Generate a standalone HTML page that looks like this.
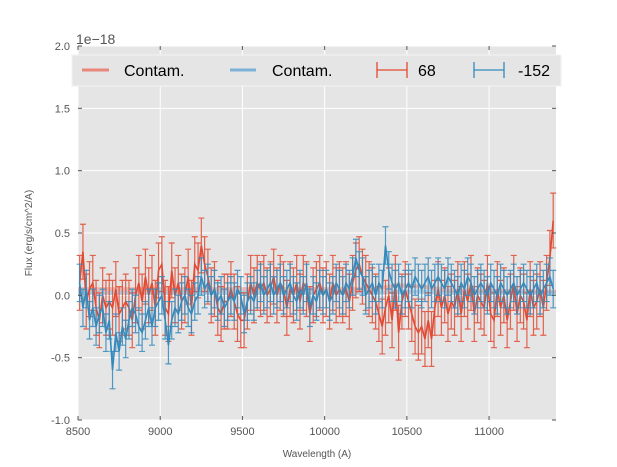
<!DOCTYPE html>
<html><head><meta charset="utf-8"><style>
html,body{margin:0;padding:0;background:#fff;}
svg{display:block;font-family:"Liberation Sans",sans-serif;}
</style></head><body>
<svg id="chart" width="617" height="467" viewBox="0 0 617 467" xmlns="http://www.w3.org/2000/svg">
<rect x="78" y="46" width="478" height="374" fill="#e5e5e5"/>
<g id="grid"></g>
<g id="series"></g>
<g id="axes"></g>
<text x="76" y="44" font-size="14" fill="#555">1e−18</text>
<text x="317" y="457" font-size="10" fill="#555" text-anchor="middle">Wavelength (A)</text>
<text transform="translate(32,233) rotate(-90)" font-size="10" fill="#555" text-anchor="middle">Flux (erg/s/cm^2/A)</text>
<g>
<rect x="72" y="55" width="489" height="31" fill="#e5e5e5" stroke="#f2f2f2" stroke-width="1"/>
<line x1="82" y1="70" x2="109" y2="70" stroke="#e8877a" stroke-width="3"/>
<text x="124" y="76" font-size="16" fill="#000">Contam.</text>
<line x1="230" y1="70" x2="256" y2="70" stroke="#7cb2d6" stroke-width="3"/>
<text x="272" y="76" font-size="16" fill="#000">Contam.</text>
<g stroke="#e24a33" stroke-width="1.3"><line x1="377" y1="70" x2="407" y2="70"/><line x1="377" y1="62" x2="377" y2="78"/><line x1="407" y1="62" x2="407" y2="78"/></g>
<text x="418" y="76" font-size="16" fill="#000">68</text>
<g stroke="#348abd" stroke-width="1.3"><line x1="474" y1="70" x2="504" y2="70"/><line x1="474" y1="62" x2="474" y2="78"/><line x1="504" y1="62" x2="504" y2="78"/></g>
<text x="518" y="76" font-size="16" fill="#000">-152</text>
</g>
</svg>
<script>
const wlStart = 8510, wlStep = 20;
const red68 = [0.1,0.35,-0.05,0.05,0.1,-0.1,-0.2,0.0,-0.1,-0.05,
-0.1,0.05,-0.15,-0.1,-0.05,-0.1,-0.2,0.0,0.1,-0.05,
0.15,0.0,0.1,-0.1,0.2,0.25,-0.1,-0.15,0.2,0.0,
0.1,-0.05,0.0,0.15,-0.1,0.25,0.2,0.4,0.25,0.15,
0.0,0.05,-0.1,-0.15,-0.05,-0.05,0.05,-0.05,-0.15,-0.2,
-0.2,-0.05,0.1,0.0,0.1,0.05,0.1,0.0,0.05,0.15,
0.0,0.1,0.05,-0.1,0.05,0.0,0.1,-0.05,0.1,0.05,
-0.15,0.0,0.05,0.1,0.0,0.05,-0.05,0.1,0.0,0.05,
0.0,0.05,-0.05,0.1,0.2,0.25,0.15,0.1,0.05,0.0,
-0.05,-0.15,-0.25,-0.1,0.0,-0.2,0.1,-0.3,-0.05,0.05,
-0.05,-0.15,-0.25,-0.3,-0.25,-0.35,-0.2,-0.35,-0.1,0.05,
-0.1,0.0,-0.15,-0.05,-0.1,0.05,-0.15,0.05,-0.05,0.1,
-0.15,0.0,-0.05,-0.1,0.1,-0.15,-0.2,0.05,-0.1,0.0,
-0.2,-0.05,0.1,-0.15,0.0,-0.05,-0.2,0.05,-0.1,-0.05,
0.05,-0.1,0.1,0.3,0.6];
const blue152 = [0.1,-0.1,0.05,-0.2,-0.1,-0.25,-0.15,-0.1,-0.3,-0.2,
-0.6,-0.3,-0.45,-0.25,-0.35,-0.2,-0.1,-0.15,-0.25,-0.3,
-0.2,-0.1,-0.25,-0.1,-0.05,0.0,-0.2,-0.4,-0.2,-0.1,
-0.15,-0.05,0.0,-0.1,-0.15,-0.05,0.0,0.15,0.05,0.1,
0.0,0.05,-0.05,0.0,-0.1,-0.05,0.0,-0.05,0.05,0.0,
-0.15,-0.05,0.0,-0.05,0.05,0.1,0.0,0.05,0.1,0.0,
0.05,0.1,0.0,0.05,0.1,0.0,-0.05,0.05,0.0,0.1,
-0.1,0.0,-0.05,0.05,0.0,0.05,-0.05,0.0,0.1,0.05,
0.0,0.1,0.05,0.15,0.3,0.2,0.15,0.0,0.05,0.1,
0.0,0.1,0.05,0.4,0.2,0.1,0.05,0.1,0.0,0.05,
0.1,0.05,0.15,0.1,0.05,0.1,0.15,0.05,0.1,0.15,
0.1,0.05,0.15,0.1,0.05,0.0,0.1,0.05,0.15,0.1,
0.0,0.05,0.1,0.05,0.0,0.1,0.05,0.0,0.1,0.05,
0.0,0.05,0.1,0.0,0.05,0.1,0.05,0.0,0.05,0.1,
0.0,0.05,0.1,0.15,0.05];
const errRed = 0.22, errBlue = 0.15;
const contamWl = [8500,10300,10450,10600,10750,11407];
const contamRed = [0.05,0.05,0.08,0.07,0.04,0.03];
const contamBlue = [0.02,0.02,0.03,0.03,0.02,0.02];
const xTicks = [8500,9000,9500,10000,10500,11000];
const yTicks = [-1.0,-0.5,0.0,0.5,1.0,1.5,2.0];

const NS="http://www.w3.org/2000/svg";
const X0=78,X1=556,Y0=420,Y1=46, xmin=8500,xmax=11407,ymin=-1,ymax=2;
const sx=v=>X0+(v-xmin)/(xmax-xmin)*(X1-X0);
const sy=v=>Y0-(v-ymin)/(ymax-ymin)*(Y0-Y1);
function mk(tag,attrs,parent){const e=document.createElementNS(NS,tag);for(const k in attrs)e.setAttribute(k,attrs[k]);parent.appendChild(e);return e;}
const grid=document.getElementById('grid'),axes=document.getElementById('axes'),series=document.getElementById('series');
xTicks.forEach(t=>{
 const l=mk('line',{x1:sx(t),x2:sx(t),y1:Y1,y2:Y0,stroke:'#fff','stroke-width':1},grid);
 
 
 const tk=mk('line',{x1:sx(t),x2:sx(t),y1:Y0,y2:Y0-4,stroke:'#555'},axes);
 
 
 const tk2=mk('line',{x1:sx(t),x2:sx(t),y1:Y1,y2:Y1+4,stroke:'#555'},axes);
 
 
 const tx=mk('text',{x:sx(t),y:Y0+15,'font-size':11,fill:'#555','text-anchor':'middle'},axes);
 tx.textContent=t;
 
 
});
yTicks.forEach(t=>{
 const l=mk('line',{x1:X0,x2:X1,y1:sy(t),y2:sy(t),stroke:'#fff','stroke-width':1},grid);
 
 
 const tk=mk('line',{x1:X0,x2:X0+4,y1:sy(t),y2:sy(t),stroke:'#555'},axes);
 
 
 const tk2=mk('line',{x1:X1,x2:X1-4,y1:sy(t),y2:sy(t),stroke:'#555'},axes);
 
 
 const tx=mk('text',{x:X0-8,y:sy(t)+4,'font-size':11,fill:'#555','text-anchor':'end'},axes);
 tx.textContent=t.toFixed(1);
 
 
});
function contam(vals,color,name){
 const p=mk('polyline',{points:contamWl.map((w,i)=>sx(w)+','+sy(vals[i])).join(' '),fill:'none',stroke:color,'stroke-width':4,'stroke-opacity':0.5},series);
 
 
}
function errSeries(vals,err,color,name){
 const g=mk('g',{stroke:color,'stroke-width':1.2,fill:'none'},series);
 
 
 vals.forEach((v,i)=>{
  const x=sx(wlStart+i*wlStep);
  const e=mk('path',{d:`M${x},${sy(v-err)}V${sy(v+err)}M${x-3},${sy(v-err)}h6M${x-3},${sy(v+err)}h6`,'stroke-opacity':0.85},g);
  
  
 });
 const p=mk('polyline',{points:vals.map((v,i)=>sx(wlStart+i*wlStep)+','+sy(v)).join(' '),'stroke-width':1.6},g);
 
 
}
contam(contamRed,'#e8877a','contam-red');
contam(contamBlue,'#7cb2d6','contam-blue');
errSeries(red68,errRed,'#e24a33','series-68');
errSeries(blue152,errBlue,'#348abd','series-152');
</script>
</body></html>
